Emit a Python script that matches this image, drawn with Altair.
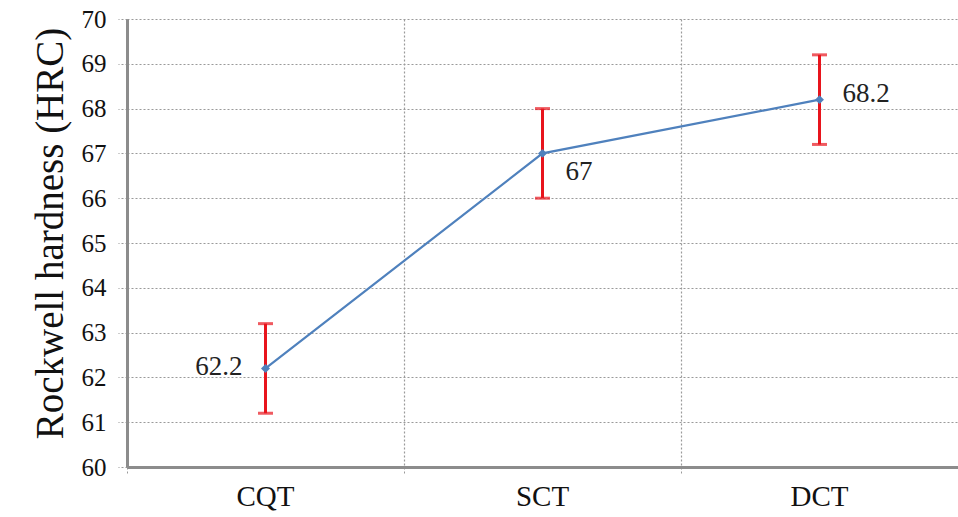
import altair as alt
import pandas as pd

# Hardness by treatment
treatments = ["CQT", "SCT", "DCT"]
hardness = [62.2, 67.0, 68.2]
err = [1.0, 1.0, 1.0]
labels = ["62.2", "67", "68.2"]
label_dx = [-23, 23, 23]
label_dy = [-1, 19, -6]
label_align = ["right", "left", "left"]

df = pd.DataFrame({
    "treatment": treatments,
    "hrc": hardness,
    "lo": [h - e for h, e in zip(hardness, err)],
    "hi": [h + e for h, e in zip(hardness, err)],
    "label": labels,
})

FONT = "Liberation Serif"
GRID = "#9a9a9a"

x_enc = alt.X(
    "treatment:N",
    sort=treatments,
    title=None,
    scale=alt.Scale(paddingInner=0, paddingOuter=0),
    axis=alt.Axis(
        bandPosition=0,
        grid=True,
        tickSize=8,
        labelAngle=0,
        labelFontSize=29,
        labelPadding=7,
    ),
)

y_scale = alt.Scale(domain=[60, 70], nice=False, zero=False)
y_enc = alt.Y(
    "hrc:Q",
    scale=y_scale,
    title="Rockwell hardness (HRC)",
    axis=alt.Axis(
        values=list(range(60, 71)),
        grid=True,
        tickSize=9,
        labelFontSize=25,
        labelPadding=12,
        titleFontSize=39,
        titlePadding=11,
        titleY=214,
    ),
)

x_plain = alt.X("treatment:N", sort=treatments)
base = alt.Chart(df)

# Connecting line between the means
line = base.mark_line(color="#4f81bd", strokeWidth=2.2).encode(x=x_enc, y=y_enc)

# +/- error bars with caps
bars = base.mark_rule(color="#e8141c", strokeWidth=3).encode(
    x=x_plain, y=alt.Y("lo:Q", scale=y_scale), y2="hi:Q"
)
caps_lo = base.mark_tick(color="#e8141c", size=15, thickness=3).encode(
    x=x_plain, y=alt.Y("lo:Q", scale=y_scale)
)
caps_hi = base.mark_tick(color="#e8141c", size=15, thickness=3).encode(
    x=x_plain, y=alt.Y("hi:Q", scale=y_scale)
)

points = base.mark_point(
    shape="diamond", filled=True, color="#4f81bd", size=80, opacity=1
).encode(x=x_plain, y=alt.Y("hrc:Q", scale=y_scale))

texts = []
for i, t in enumerate(treatments):
    texts.append(
        alt.Chart(df[df.treatment == t]).mark_text(
            font=FONT, fontSize=27, color="#222222",
            align=label_align[i], baseline="middle",
            dx=label_dx[i], dy=label_dy[i],
        ).encode(x=x_plain, y=alt.Y("hrc:Q", scale=y_scale), text="label:N")
    )

chart = (
    alt.layer(line, bars, caps_lo, caps_hi, points, *texts)
    .properties(
        width=831,
        height=448,
        padding={"left": 127, "top": 19, "right": 0, "bottom": 50},
        autosize=alt.AutoSizeParams(type="none"),
        background="white",
    )
    .configure(font=FONT)
    .configure_view(strokeWidth=0)
    .configure_axis(
        labelFont=FONT,
        titleFont=FONT,
        labelColor="#111111",
        titleColor="#111111",
        titleFontWeight="normal",
        gridColor=GRID,
        gridDash=[2, 2],
        gridWidth=1.2,
        tickColor=GRID,
        tickDash=[2, 2],
        domainColor="#8c8c8c",
        domainWidth=3,
    )
)

chart.save("out.html", embed_options={"renderer": "svg", "actions": False})
